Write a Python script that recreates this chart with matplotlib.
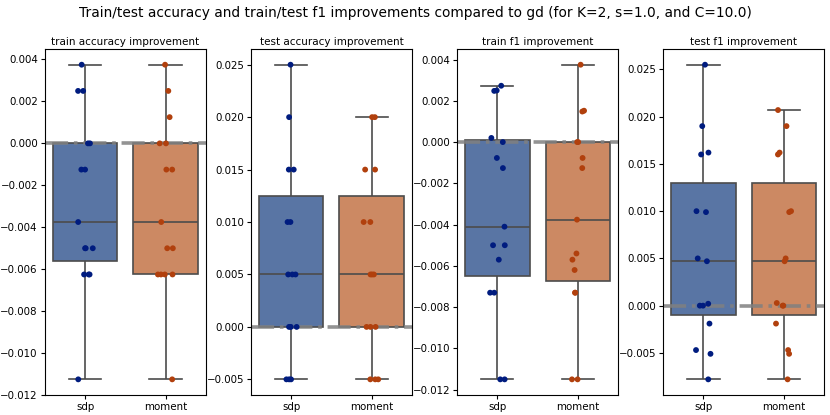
import numpy as np
import pandas as pd
import matplotlib
matplotlib.use('Agg')
import matplotlib.pyplot as plt
import seaborn as sns

methods = ['sdp', 'moment']

# improvements over gd, one value per run (15 runs)
train_acc_sdp = [-0.01125, -0.00625, -0.00625, -0.00625, -0.005, -0.005, -0.005, -0.00375,
                 -0.00125, -0.00125, 0.0, 0.0, 0.0025, 0.0025, 0.00375]
train_acc_moment = [-0.01125, -0.00625, -0.00625, -0.00625, -0.00625, -0.005, -0.005, -0.00375,
                    -0.00125, -0.00125, 0.0, 0.0, 0.00125, 0.0025, 0.00375]

test_acc_sdp = [-0.005, -0.005, -0.005, 0.0, 0.0, 0.0, 0.005, 0.005,
                0.005, 0.01, 0.01, 0.015, 0.015, 0.02, 0.025]
test_acc_moment = [-0.005, -0.005, -0.005, 0.0, 0.0, 0.0, 0.005, 0.005,
                   0.005, 0.01, 0.01, 0.015, 0.015, 0.02, 0.02]

train_f1_sdp = [-0.0115, -0.0115, -0.0073, -0.0073, -0.0057, -0.005, -0.005, -0.0041,
                -0.00126, -0.00077, 0.0, 0.0002, 0.00248, 0.0025, 0.00273]
train_f1_moment = [-0.0115, -0.0115, -0.0073, -0.0073, -0.0062, -0.0057, -0.0054, -0.00376,
                   -0.00126, -0.00077, 0.0, 0.0, 0.00148, 0.00152, 0.00375]

test_f1_sdp = [-0.0078, -0.0051, -0.0047, -0.0019, 0.0, 0.0, 0.0002, 0.0047,
               0.005, 0.0099, 0.01, 0.016, 0.0162, 0.019, 0.0255]
test_f1_moment = [-0.0078, -0.0051, -0.0047, -0.0019, 0.0, 0.0, 0.00028, 0.0047,
                  0.005, 0.0099, 0.01, 0.016, 0.0162, 0.019, 0.0207]

panels = [
    ('train accuracy improvement', train_acc_sdp, train_acc_moment),
    ('test accuracy improvement', test_acc_sdp, test_acc_moment),
    ('train f1 improvement', train_f1_sdp, train_f1_moment),
    ('test f1 improvement', test_f1_sdp, test_f1_moment),
]

np.random.seed(7)

fig, axes = plt.subplots(1, 4, figsize=(8.3, 4.15), dpi=100)
fig.subplots_adjust(left=0.054, right=0.993, bottom=0.048, top=0.882, wspace=0.28)

for ax, (title, sdp, moment) in zip(axes, panels):
    df = pd.DataFrame({
        'method': ['sdp'] * len(sdp) + ['moment'] * len(moment),
        'value': sdp + moment,
    })
    sns.boxplot(data=df, x='method', y='value', hue='method', order=methods,
                palette='deep', whis=(0, 100), linewidth=1.2, legend=False, ax=ax)
    ax.axhline(0, color='gray', linestyle='-.', linewidth=2.6, alpha=0.85)
    sns.stripplot(data=df, x='method', y='value', hue='method', order=methods,
                  palette='dark', size=4.2, jitter=0.1, legend=False, ax=ax)
    ax.set_title(title, fontsize=7.5, pad=3)
    ax.set_xlabel('')
    ax.set_ylabel('')
    ax.tick_params(labelsize=7.4, length=3, pad=2)

fig.suptitle('Train/test accuracy and train/test f1 improvements compared to gd (for K=2, s=1.0, and C=10.0)',
             fontsize=9.9, y=0.985)

fig.savefig('out.png', dpi=100)
